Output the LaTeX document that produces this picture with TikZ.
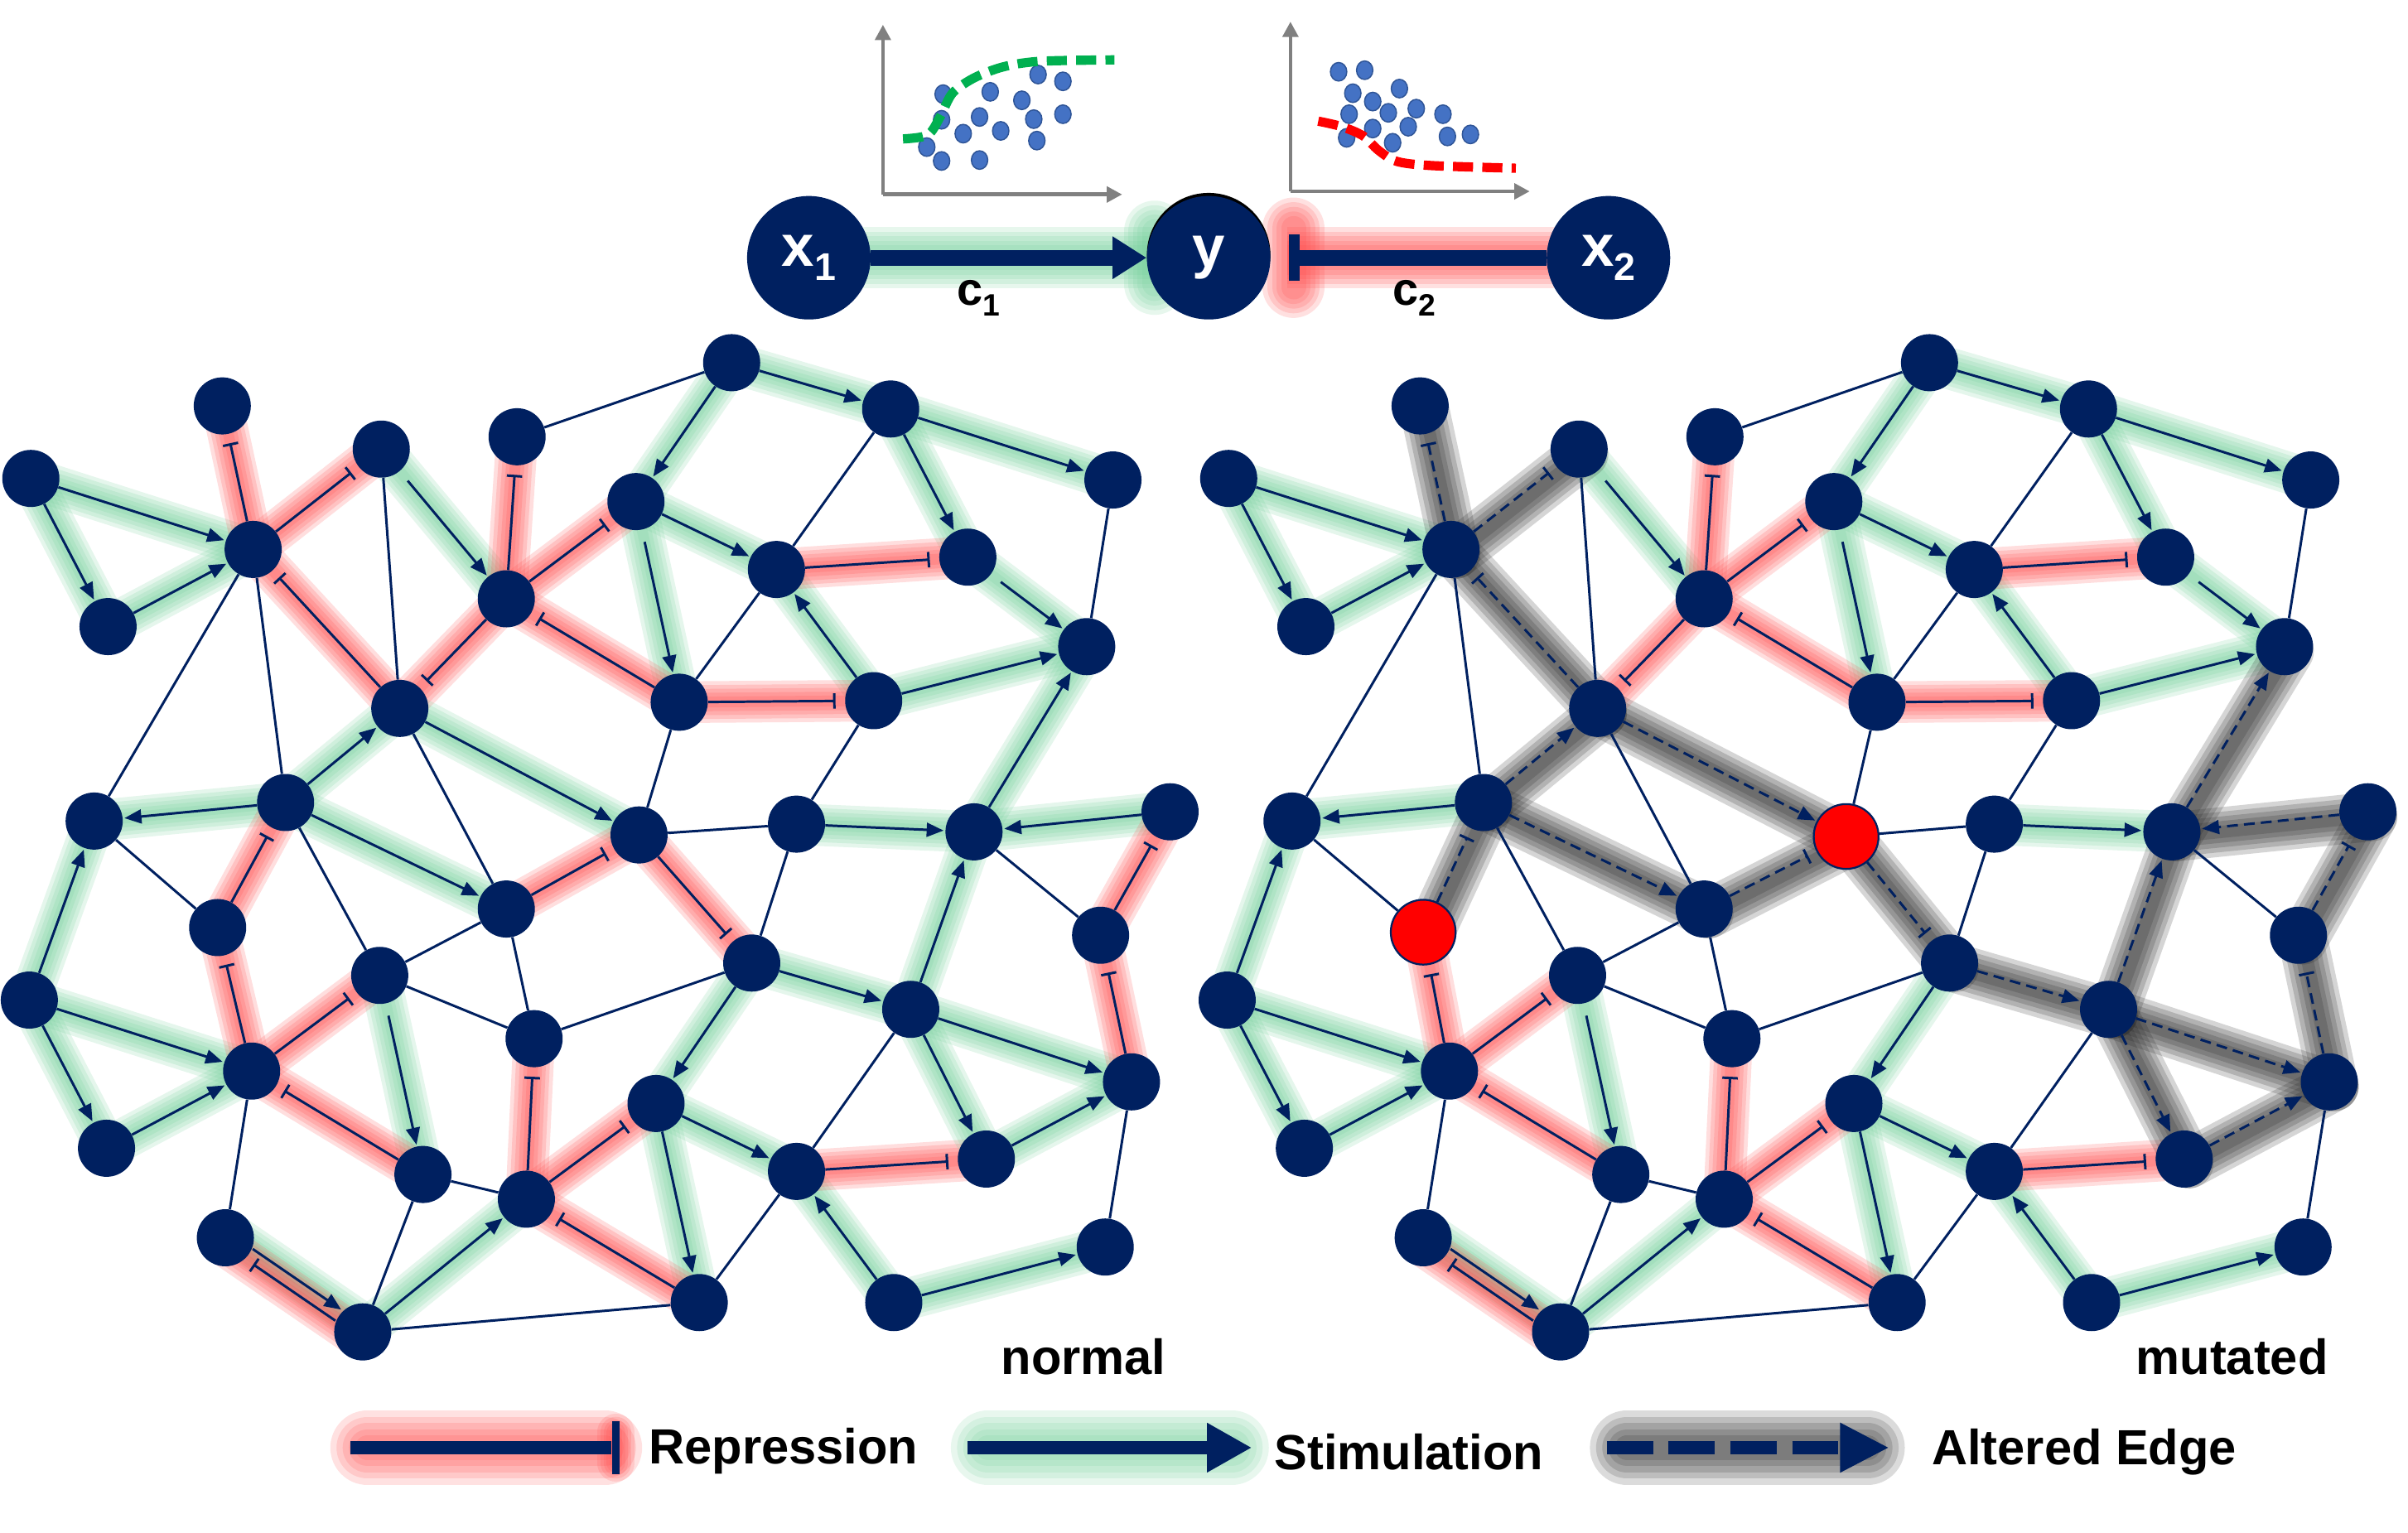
\documentclass[tikz,border=0pt]{standalone}
\usepackage{fontspec}
\setmainfont{Liberation Sans}
\usetikzlibrary{arrows.meta}
\definecolor{navy}{RGB}{0,32,96}
\definecolor{mint}{RGB}{110,205,150}
\definecolor{glowred}{RGB}{255,70,70}
\definecolor{shadowgray}{RGB}{30,30,30}
\definecolor{dotblue}{RGB}{68,114,196}
\definecolor{dotedge}{RGB}{47,85,151}
\definecolor{axgray}{RGB}{128,128,128}
\definecolor{curvegreen}{RGB}{0,176,80}
\pgfdeclarelayer{glow}
\pgfdeclarelayer{edges}
\pgfsetlayers{glow,edges,main}
\tikzset{
  gnode/.style={circle,fill=navy,minimum size=37pt,inner sep=0pt},
  rnode/.style={circle,fill=red,draw=navy,line width=1.2pt,minimum size=42pt,inner sep=0pt},
  tnode/.style={circle,fill=navy,minimum size=80pt,inner sep=0pt,text=white,font=\fontsize{38}{38}\selectfont\bfseries},
  edgeline/.style={draw=navy,line width=1.6pt},
  stimedge/.style={edgeline,-{Triangle[length=11pt,width=9pt]},shorten >=1pt},
  repedge/.style={edgeline,-{Bar[width=10pt,line width=1.6pt]},shorten >=6pt},
  altstimedge/.style={stimedge,dash pattern=on 7pt off 4pt},
  altrepedge/.style={repedge,dash pattern=on 7pt off 4pt},
  lbl/.style={font=\fontsize{32}{32}\selectfont\bfseries,text=black},
}
% soft glow: several strokes of decreasing width
\newcommand\glowpath[4][]{%
  \begin{pgfonlayer}{glow}
  \foreach \gw in {27,22,17,12,7}
    {\draw[#2,opacity=.18,line width=\gw pt,line cap=round,#1] (#3.center) -- (#4.center);}
  \end{pgfonlayer}}
\newcommand\shadowpath[2]{%
  \begin{pgfonlayer}{glow}
  \foreach \gw in {32,26,20,14,8}
    {\draw[shadowgray,opacity=.19,line width=\gw pt,line cap=round,transform canvas={shift={(3pt,-3pt)}}] (#1.center) -- (#2.center);}
  \end{pgfonlayer}}
\newcommand\drawstim[3][]{\glowpath{mint}{#2}{#3}%
  \begin{pgfonlayer}{edges}\draw[stimedge,#1] (#2) -- (#3);\end{pgfonlayer}}
\newcommand\drawrep[3][]{\glowpath{glowred}{#2}{#3}%
  \begin{pgfonlayer}{edges}\draw[repedge,#1] (#2) -- (#3);\end{pgfonlayer}}
\newcommand\drawplain[2]{%
  \begin{pgfonlayer}{edges}\draw[edgeline] (#1) -- (#2);\end{pgfonlayer}}
\newcommand\drawaltstim[2]{\shadowpath{#1}{#2}%
  \begin{pgfonlayer}{edges}\draw[altstimedge] (#1) -- (#2);\end{pgfonlayer}}
\newcommand\drawaltrep[2]{\shadowpath{#1}{#2}%
  \begin{pgfonlayer}{edges}\draw[altrepedge] (#1) -- (#2);\end{pgfonlayer}}
\def\nodelist{1/20/310,2/144/263,3/247/291,4/335/283,5/474/235,6/577/265,7/721/311,8/164/356,9/70/406,10/412/325,11/328/388,12/503/369,13/627/361,14/704/419,15/259/459,16/440/455,17/566/454,18/185/520,19/61/532,20/414/541,21/516/534,22/631/539,23/758/526,24/141/601,25/328/589,26/246/632,27/487/624,28/713/606,29/19/648,30/346/673,31/590/654,32/163/694,33/425/715,34/733/701,35/69/744,36/274/761,37/341/777,38/516/759,39/639/751,40/146/802,41/235/863,42/453/844,43/579/844,44/716/808}
\begin{document}
\begin{tikzpicture}[x=1pt,y=-1pt]
\useasboundingbox (0,0) rectangle (1560,993);
% ---------- network nodes ----------
\foreach \i/\x/\y in \nodelist {
  \node[gnode] (L\i) at (\x,\y) {};
  \ifnum\i=20 \else\ifnum\i=24 \else \node[gnode] (R\i) at (\x+776,\y) {};\fi\fi
}
\node[rnode] (R20) at (1196,542) {};
\node[rnode] (R24) at (922,604) {};
% ---------- common edges ----------
\foreach \p in {L,R} {
  \foreach \a/\b in {1/8,1/9,9/8,5/10,5/6,6/7,6/13,10/12,17/12,17/14,18/19,29/19,29/32,29/35,35/32,21/22,41/37,27/33,33/38,33/42,43/38,43/44}
    {\drawstim{\p\a}{\p\b}}
  \foreach \a/\b in {3/11,10/16,13/14,26/36}
    {\drawstim[shorten <=8pt]{\p\a}{\p\b}}
  \foreach \a/\b in {11/4,11/10,11/15,16/11,12/13,16/17,32/24,32/26,36/32,37/30,37/33,42/37,38/39}
    {\drawrep{\p\a}{\p\b}}
  \foreach \a/\b in {8/18,8/19,3/15,4/5,15/25,18/26,19/24,6/12,12/16,7/14,16/20,17/21,20/21,26/25,26/30,25/30,30/27,32/40,36/37,36/41,41/42,21/27,22/28,31/38,38/42,34/44}
    {\drawplain{\p\a}{\p\b}}
  % double edge 40/41
  \glowpath[transform canvas={shift={(2.6pt,3.6pt)}}]{mint}{\p40}{\p41}
  \glowpath[transform canvas={shift={(-2.6pt,-3.6pt)}}]{glowred}{\p40}{\p41}
  \begin{pgfonlayer}{edges}
    \draw[stimedge,transform canvas={shift={(2.3pt,3.3pt)}}] (\p40) -- (\p41);
    \draw[repedge,transform canvas={shift={(-2.3pt,-3.3pt)}}] (\p41) -- (\p40);
  \end{pgfonlayer}
}
% ---------- edges altered in the mutated network ----------
\foreach \a/\b in {22/14,18/15,15/20,18/25,23/22,27/31,31/22,31/34,31/39,39/34}
  {\drawstim{L\a}{L\b}\drawaltstim{R\a}{R\b}}
\foreach \a/\b in {8/2,8/3,15/8,24/18,25/20,20/27,28/23,34/28}
  {\drawrep{L\a}{L\b}\drawaltrep{R\a}{R\b}}
% ---------- labels ----------
\node[lbl] (tnormal) at (702,879) {normal};
\node[lbl] (tmutated) at (1446,879) {mutated};
% ---------- top: regression sketch ----------
\node[circle,fill=black,minimum size=80pt,inner sep=0pt] (yshadow) at (783,165) {};
\node[tnode] (x1) at (524,167) {x\raisebox{-9pt}{\fontsize{25}{25}\selectfont 1}};
\node[tnode] (y) at (783,167) {y};
\node[tnode] (x2) at (1042,167) {x\raisebox{-9pt}{\fontsize{25}{25}\selectfont 2}};
\coordinate (gEnd) at (756,167);
\coordinate (gHa) at (748,150);
\coordinate (gHb) at (748,184);
\coordinate (rSt) at (834,167);
\coordinate (rBa) at (838,148);
\coordinate (rBb) at (838,186);
\begin{pgfonlayer}{glow}
\foreach \w in {40,34,28,22,16} {
  \draw[mint,opacity=.17,line width=\w pt] (x1.center) -- (gEnd);
  \draw[mint,opacity=.17,line width=\w pt,line cap=round] (gHa) -- (gHb);
  \draw[glowred,opacity=.17,line width=\w pt] (rSt) -- (x2.center);
  \draw[glowred,opacity=.17,line width=\w pt,line cap=round] (rBa) -- (rBb);
}
\end{pgfonlayer}
\begin{pgfonlayer}{edges}
\draw[navy,line width=10pt,-{Triangle[length=22pt,width=26pt]}] (x1) -- (y);
\draw[navy,line width=10pt,-{Bar[width=30pt,line width=7pt]},shorten >=12pt] (x2) -- (y);
\end{pgfonlayer}
\node[font=\fontsize{30}{30}\selectfont\bfseries] (c1) at (634,193) {c\raisebox{-7pt}{\fontsize{20}{20}\selectfont 1}};
\node[font=\fontsize{30}{30}\selectfont\bfseries] (c2) at (916,193) {c\raisebox{-7pt}{\fontsize{20}{20}\selectfont 2}};
% left plot
\coordinate (o1) at (572,126);
\coordinate (ya1) at (572,16);
\coordinate (xa1) at (727,126);
\draw[axgray,line width=2.5pt,-{Triangle[length=10pt,width=10pt]}] (o1) -- (ya1);
\draw[axgray,line width=2.5pt,-{Triangle[length=10pt,width=10pt]}] (o1) -- (xa1);
\foreach \x/\y in {611/61,641.5/59.5,662/65,672.5/48.3,688.6/52.7,634.6/75.8,669.7/77.2,688.6/74,610/77.6,624/86.6,648.3/84.8,671.7/91.1,600.4/95.3,610/104.3,634.6/103.7}
  \filldraw[fill=dotblue,draw=dotedge,line width=0.8pt] (\x,\y) ellipse [x radius=5.3pt,y radius=6pt];
\draw[curvegreen,line width=6pt,dash pattern=on 13pt off 6pt] plot[smooth] coordinates {(585,90) (601,87.5) (609,75.8) (617,60.4) (631,50.5) (650,43.3) (674,39.7) (722,38.8)};
% right plot
\coordinate (o2) at (836,124);
\coordinate (ya2) at (836,14);
\coordinate (xa2) at (991,124);
\draw[axgray,line width=2.5pt,-{Triangle[length=10pt,width=10pt]}] (o2) -- (ya2);
\draw[axgray,line width=2.5pt,-{Triangle[length=10pt,width=10pt]}] (o2) -- (xa2);
\foreach \x/\y in {867.2/46.5,884.1/45.5,876.4/60.4,906.6/57.4,889.3/65.8,899.4/73.1,917.5/70.4,874/74,934.8/74,889.3/83.3,912.3/82.1,872.4/89.3,902.2/92.5,937.7/88.4,952.6/87.1}
  \filldraw[fill=dotblue,draw=dotedge,line width=0.8pt] (\x,\y) ellipse [x radius=5.3pt,y radius=6pt];
\draw[red,line width=6pt,dash pattern=on 13pt off 6pt] plot[smooth] coordinates {(854,78.5) (869,82) (883,88) (893,97.4) (905,104.6) (927.6,107.3) (982,109)};
% ---------- legend ----------
\coordinate (lr1) at (227,938);
\coordinate (lr2) at (396,938);
\coordinate (lrb1) at (399,921);
\coordinate (lrb2) at (399,955);
\coordinate (ls1) at (627,938);
\coordinate (ls2) at (811,938);
\coordinate (la1) at (1041,938);
\coordinate (la2) at (1224,938);
\coordinate (gr1) at (238,938);
\coordinate (gr2) at (392,938);
\coordinate (grb1) at (399,928);
\coordinate (grb2) at (399,948);
\coordinate (gs1) at (640,938);
\coordinate (gs2) at (798,938);
\coordinate (ga1) at (1054,938);
\coordinate (ga2) at (1210,938);
\begin{pgfonlayer}{glow}
\foreach \w/\h in {48/24,40/20,32/16,24/12,16/8} {
  \draw[glowred,opacity=.16,line width=\w pt,line cap=round] (gr1) -- (gr2);
  \draw[glowred,opacity=.16,line width=\h pt,line cap=round] (grb1) -- (grb2);
  \draw[mint,opacity=.16,line width=\w pt,line cap=round] (gs1) -- (gs2);
  \draw[shadowgray,opacity=.16,line width=\w pt,line cap=round] (ga1) -- (ga2);
}
\end{pgfonlayer}
\draw[navy,line width=9pt] (lr1) -- (lr2);
\draw[navy,line width=5pt] (lrb1) -- (lrb2);
\draw[navy,line width=9pt,-{Triangle[length=29pt,width=30pt]}] (ls1) -- (ls2);
\draw[navy,line width=9pt,dash pattern=on 30pt off 10pt,-{Triangle[length=32pt,width=30pt]}] (la1) -- (la2);
\node[lbl,anchor=west] (tRep) at (417,940) {Repression};
\node[lbl,anchor=west] (tStim) at (822,941) {Stimulation};
\node[lbl,anchor=west] (tAlt) at (1248,941) {Altered Edge};
\end{tikzpicture}
\end{document}
